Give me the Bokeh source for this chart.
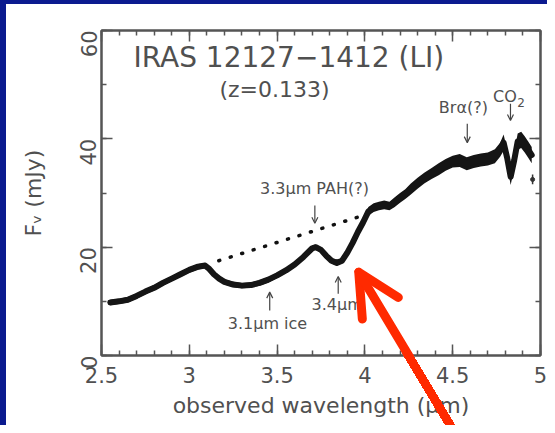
import math
from bokeh.plotting import figure
from bokeh.models import (LinearAxis, SingleIntervalTicker, Range1d, Arrow,
                          OpenHead, ColumnDataSource, Label, InlineStyleSheet)
from bokeh.embed import file_html
from bokeh.resources import INLINE

# ---------------- data ----------------
wave = [2.55, 2.60, 2.65, 2.70, 2.75, 2.80, 2.85, 2.90, 2.95, 3.00, 3.05, 3.09,
        3.11, 3.14, 3.17, 3.20, 3.25, 3.30, 3.35, 3.40, 3.45, 3.50, 3.55, 3.60,
        3.65, 3.70, 3.72, 3.75, 3.78, 3.81, 3.84, 3.87, 3.90, 3.93, 3.96, 3.99,
        4.02, 4.05, 4.08, 4.11, 4.14, 4.17, 4.20, 4.23, 4.26, 4.30, 4.34, 4.38,
        4.42, 4.46, 4.50, 4.54, 4.58, 4.62, 4.66, 4.70, 4.74, 4.77, 4.79, 4.81,
        4.83, 4.85, 4.87, 4.89, 4.91, 4.93, 4.95]
flux = [9.8, 10.0, 10.3, 11.0, 11.8, 12.5, 13.4, 14.2, 15.0, 15.8, 16.4, 16.6,
        16.1, 15.0, 14.2, 13.6, 13.1, 12.9, 13.0, 13.4, 14.0, 14.8, 15.7, 16.8,
        18.2, 19.8, 20.0, 19.5, 18.4, 17.5, 17.1, 17.5, 19.0, 20.8, 22.8, 24.6,
        26.6, 27.3, 27.6, 27.8, 27.6, 28.3, 29.1, 29.8, 30.7, 31.8, 32.8, 33.6,
        34.4, 35.2, 35.8, 36.0, 35.4, 35.8, 36.1, 36.3, 36.8, 38.0, 39.3, 36.5,
        33.0, 36.0, 39.5, 39.8, 39.0, 38.0, 37.0]
err = [0.5, 0.5, 0.5, 0.5, 0.5, 0.5, 0.5, 0.5, 0.5, 0.5, 0.5, 0.5,
       0.5, 0.5, 0.5, 0.5, 0.5, 0.5, 0.5, 0.5, 0.5, 0.5, 0.5, 0.5,
       0.5, 0.5, 0.5, 0.5, 0.5, 0.5, 0.5, 0.5, 0.6, 0.6, 0.7, 0.7,
       0.8, 0.8, 0.8, 0.8, 0.8, 0.9, 0.9, 0.9, 1.0, 1.0, 1.0, 1.0,
       1.1, 1.1, 1.1, 1.2, 1.2, 1.2, 1.2, 1.2, 1.3, 1.3, 1.5, 1.5,
       1.5, 1.5, 1.5, 1.5, 1.5, 1.5, 1.5]

lone_x = [4.955]
lone_y = [32.5]
lone_err = [0.9]

cont_x = [3.168, 3.956]
cont_y = [17.5, 25.5]

x_ticks_interval = 0.5
y_ticks_interval = 20

title_text = "IRAS 12127\u22121412 (LI)"
redshift_text = "(z=0.133)"
x_label = "observed wavelength (\u03bcm)"
y_label = "F\u1d65 (mJy)"

# annotations: (text, x, y, size, align)
notes = [
    (title_text, 2.682, 55.0, "28px", "left"),
    (redshift_text, 3.485, 49.1, "22px", "center"),
    ("3.3\u03bcm PAH(?)", 3.713, 30.8, "16px", "center"),
    ("Br\u03b1(?)", 4.561, 45.8, "16px", "center"),
    ("CO", 4.73, 47.8, "16px", "left"),
    ("2", 4.868, 46.8, "12px", "left"),
    ("3.1\u03bcm ice", 3.445, 5.9, "16px", "center"),
    ("3.4\u03bcm", 3.696, 9.4, "16px", "left"),
]
# small arrows: (x, y_from, y_to)
small_arrows = [
    (3.715, 27.7, 24.4),
    (4.583, 42.8, 39.3),
    (4.829, 46.5, 43.4),
    (3.458, 8.3, 11.7),
    (3.848, 11.4, 14.6),
]
# big red arrow (start -> tip), data units
red_x = [4.53, 3.965]
red_y = [-15.2, 15.38]

TXT = "#505050"
FONT = "DejaVu Sans"
RED = "#ff2a00"
NAVY = "#0b1a8f"

W, H = 547, 425
BL, BR, BT, BB = 101, 7, 30, 70
X0, X1, Y0, Y1 = 2.5, 5.0, 0.0, 60.0
kx = (W - BL - BR) / (X1 - X0)   # px per x unit
ky = (H - BT - BB) / (Y1 - Y0)   # px per y unit

p = figure(width=W, height=H, x_range=Range1d(X0, X1), y_range=Range1d(Y0, Y1),
           output_backend="svg", toolbar_location=None,
           x_axis_location=None, y_axis_location=None,
           min_border_left=BL, min_border_right=BR, min_border_top=BT,
           min_border_bottom=BB)
p.grid.visible = False
p.outline_line_color = "#555555"
p.outline_line_width = 2
p.background_fill_color = "white"
p.border_fill_color = None   # host background (white with navy slide edges) shows through

solid = f"linear-gradient({NAVY}, {NAVY})"
p.styles = {
    "background-color": "white",
    "background-image": f"{solid}, {solid}",
    "background-position": "0px 0px, 0px 0px",
    "background-size": f"6px {H}px, {W}px 4px",
    "background-repeat": "no-repeat",
}


def style_axis(ax, show_labels):
    ax.axis_line_color = "#555555"
    ax.axis_line_width = 2
    ax.major_tick_in = 11
    ax.major_tick_out = 0
    ax.minor_tick_in = 5
    ax.minor_tick_out = 0
    ax.major_tick_line_color = "#555555"
    ax.minor_tick_line_color = "#555555"
    ax.major_tick_line_width = 1.5
    ax.minor_tick_line_width = 1.5
    ax.major_label_text_font = FONT
    ax.major_label_text_color = TXT
    ax.axis_label_text_font = FONT
    ax.axis_label_text_color = TXT
    ax.axis_label_text_font_style = "normal"
    if not show_labels:
        ax.major_label_text_color = None
        ax.major_label_text_font_size = "1px"
        ax.major_label_standoff = 0


xb = LinearAxis(ticker=SingleIntervalTicker(interval=x_ticks_interval, num_minor_ticks=5),
                axis_label=x_label)
style_axis(xb, True)
xb.major_label_text_font_size = "21px"
xb.major_label_standoff = 11
xb.axis_label_text_font_size = "22px"
xb.axis_label_standoff = 7
p.add_layout(xb, "below")

xt = LinearAxis(ticker=SingleIntervalTicker(interval=x_ticks_interval, num_minor_ticks=5))
style_axis(xt, False)
p.add_layout(xt, "above")

yl = LinearAxis(ticker=SingleIntervalTicker(interval=y_ticks_interval, num_minor_ticks=2),
                axis_label=y_label)
style_axis(yl, True)
yl.major_label_text_font_size = "21px"
yl.major_label_orientation = math.pi / 2
yl.major_label_standoff = 13
yl.axis_label_text_font_size = "22px"
yl.axis_label_standoff = 24
p.add_layout(yl, "left")

yr = LinearAxis(ticker=SingleIntervalTicker(interval=y_ticks_interval, num_minor_ticks=2))
style_axis(yr, False)
p.add_layout(yr, "right")

# spectrum
src = ColumnDataSource(dict(x=wave, y=flux,
                            lo=[f - e for f, e in zip(flux, err)],
                            hi=[f + e for f, e in zip(flux, err)]))
p.varea(x="x", y1="lo", y2="hi", source=src, fill_color="#151515")
p.line(x="x", y="y", source=src, line_color="#151515", line_width=6,
       line_join="round", line_cap="round")

lsrc = ColumnDataSource(dict(x=lone_x, y=lone_y,
                             lo=[a - b for a, b in zip(lone_y, lone_err)],
                             hi=[a + b for a, b in zip(lone_y, lone_err)]))
p.segment(x0="x", y0="lo", x1="x", y1="hi", source=lsrc, line_color="#333333", line_width=1.5)
p.scatter(x="x", y="y", source=lsrc, size=4, color="#333333")

# continuum dotted line
p.line(cont_x, cont_y, line_color="#111111", line_width=3.5, line_dash="1 11",
       line_cap="round")

for t, x, y, s, a in notes:
    p.add_layout(Label(x=x, y=y, text=t, text_font=FONT, text_font_size=s,
                       text_color=TXT, text_align=a, text_baseline="middle"))

for x, y0, y1 in small_arrows:
    p.add_layout(Arrow(x_start=x, y_start=y0, x_end=x, y_end=y1,
                       line_color="#444444", line_width=1.2,
                       end=OpenHead(size=6, line_color="#444444", line_width=1.2)))

# red arrow: the part inside the plotting frame
p.add_layout(Arrow(x_start=red_x[0], y_start=red_y[0], x_end=red_x[1], y_end=red_y[1],
                   line_color=RED, line_width=9, line_cap="round",
                   end=OpenHead(size=42, line_color=RED, line_width=9,
                                line_cap="round", line_join="round"),
                   level="overlay"))

# the shaft below the frame: a CSS overlay on the figure
tx, ty = BL + (red_x[1] - X0) * kx, BT + (Y1 - red_y[1]) * ky
sx, sy = BL + (red_x[0] - X0) * kx, BT + (Y1 - red_y[0]) * ky
top, bot = BT + (Y1 - Y0) * ky - 2, H
cy = (top + bot) / 2


def xat(yy):
    return tx + (yy - ty) * (sx - tx) / (sy - ty)


cx = xat(cy)
hw = max(abs(xat(top) - cx), abs(xat(bot) - cx)) + 12
ldx, ldy = sx - tx, sy - ty
n_x, n_y = ldy, -ldx                       # normal of the shaft (page coords)
css_ang = math.degrees(math.atan2(n_x, -n_y))  # CSS angle: clockwise from "up"

red_grad = (f"linear-gradient({css_ang:.2f}deg, transparent calc(50% - 4.5px), "
            f"{RED} calc(50% - 4.5px), {RED} calc(50% + 4.5px), transparent calc(50% + 4.5px))")
css = f"""
:host {{ position: relative; }}
:host::after {{
  content: "";
  position: absolute;
  left: {cx - hw:.1f}px; top: {top:.1f}px; width: {2 * hw:.1f}px; height: {bot - top:.1f}px;
  pointer-events: none;
  z-index: 10;
  background-image: {red_grad};
  background-repeat: no-repeat;
}}
"""
p.stylesheets = [InlineStyleSheet(css=css)]

open("out.html", "w").write(file_html(p, INLINE))
